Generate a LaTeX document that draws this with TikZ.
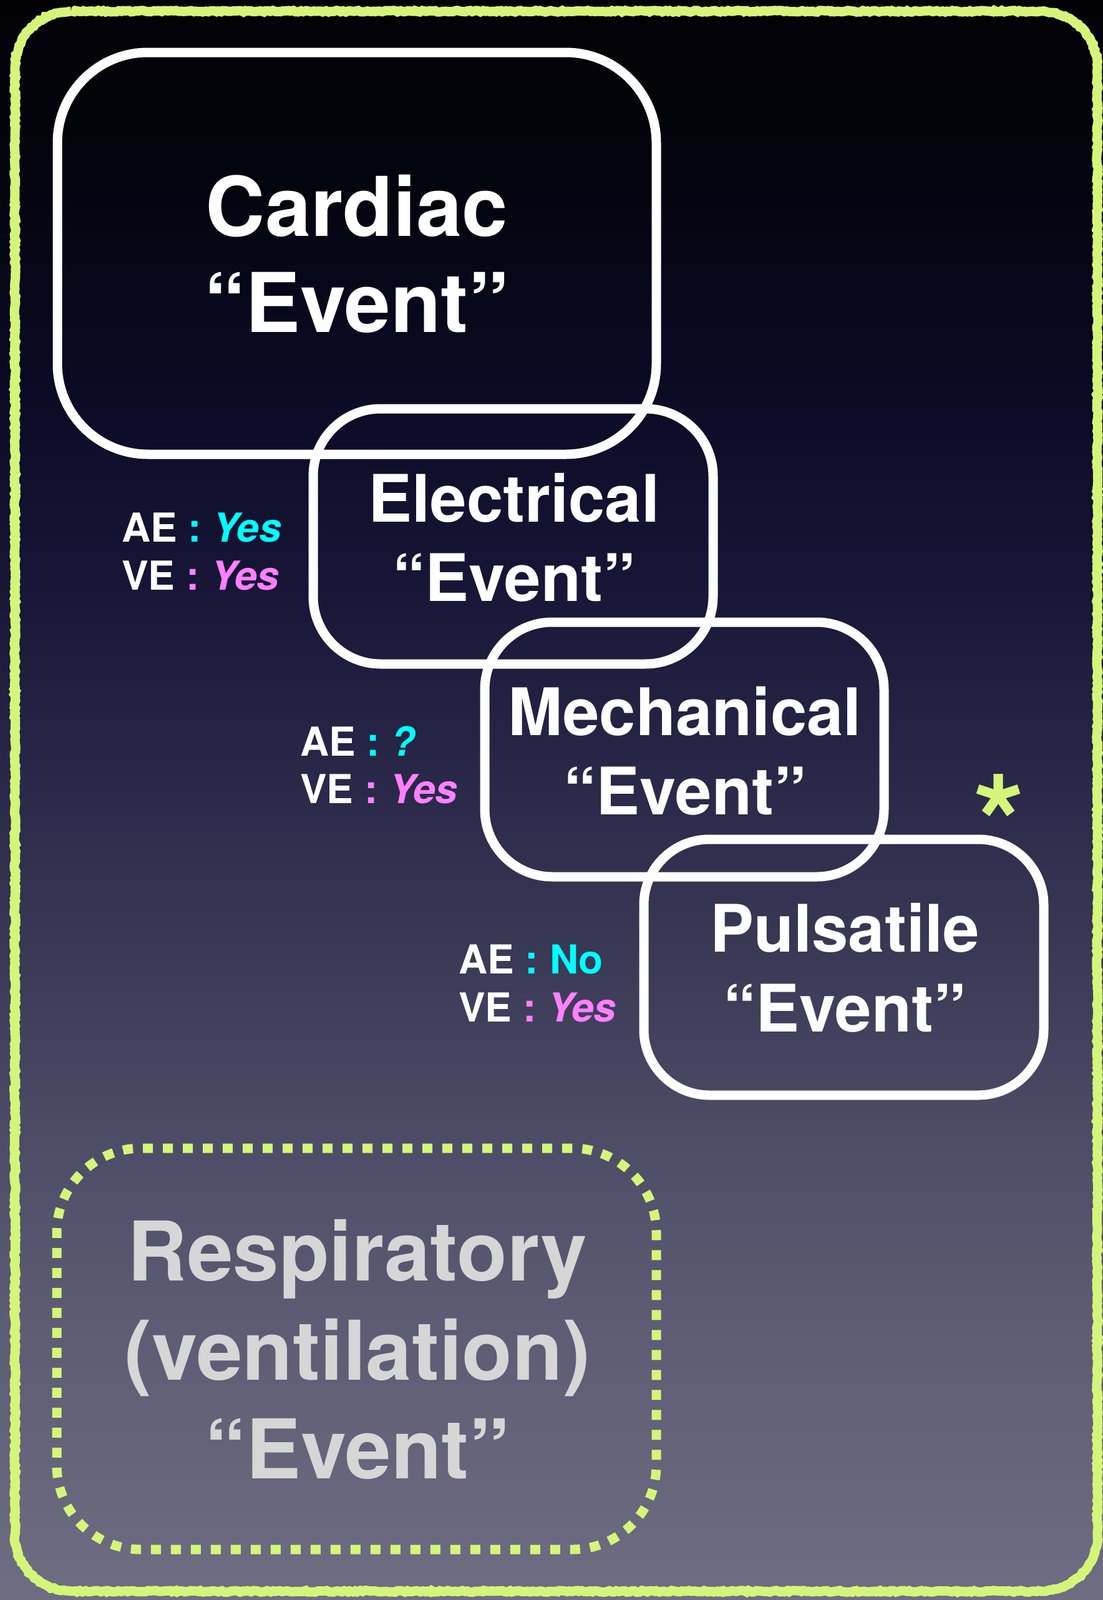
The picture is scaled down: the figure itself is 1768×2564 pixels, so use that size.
\documentclass[tikz,border=0pt]{standalone}
\usepackage{fontspec}
\setmainfont{TeX Gyre Heros}
\usetikzlibrary{decorations.pathmorphing}
\definecolor{lime}{HTML}{D4F57A}
\definecolor{aecol}{HTML}{00FFFF}
\definecolor{vecol}{HTML}{FF80FF}
\definecolor{resptext}{HTML}{D6D6D6}
\definecolor{bgA}{HTML}{020206}
\definecolor{bgB}{HTML}{04040F}
\definecolor{bgC}{HTML}{0A0A24}
\definecolor{bgD}{HTML}{151434}
\definecolor{bgE}{HTML}{262546}
\definecolor{bgF}{HTML}{383754}
\definecolor{bgG}{HTML}{4C4B66}
\definecolor{bgH}{HTML}{5C5B73}
\definecolor{bgI}{HTML}{6E6D82}
\pgfdeclareverticalshading{bgshade}{100bp}{%
  color(0bp)=(bgI); color(25bp)=(bgI); color(34.05bp)=(bgH); color(39.9bp)=(bgG);
  color(45.75bp)=(bgF); color(51.6bp)=(bgE); color(57.45bp)=(bgD); color(63.3bp)=(bgC);
  color(69.15bp)=(bgB); color(75bp)=(bgA); color(100bp)=(bgA)}
\begin{document}
\begin{tikzpicture}[x=1pt,y=-1pt,
  evbox/.style={draw=white, line width=15pt, rectangle, inner sep=0pt},
  bigtxt/.style={text=white, font=\bfseries\fontsize{132}{156}\selectfont, inner sep=0pt, anchor=base},
  midtxt/.style={text=white, font=\bfseries\fontsize{105}{128}\selectfont, inner sep=0pt, anchor=base},
  resptxt/.style={bigtxt, text=resptext},
  lbl/.style={text=white, font=\bfseries\fontsize{64}{77}\selectfont, inner sep=0pt, anchor=base west},
  dotbox/.style={draw=lime, line width=15pt, dash pattern=on 16pt off 16pt, rectangle, inner sep=0pt},
  chalk/.style={draw=lime, line width=15pt, decorate, decoration={random steps, segment length=4pt, amplitude=1.3pt}}
]
\useasboundingbox (0,0) rectangle (1768,2564);
\shade[shading=bgshade] (0,0) rectangle (1768,2564);
% chalk outer border
\draw[chalk] (114,18) -- (1669,18) arc[start angle=90, end angle=0, radius=90pt]
  -- (1759,2460) arc[start angle=0, end angle=-90, radius=90pt]
  -- (114,2550) arc[start angle=270, end angle=180, radius=90pt]
  -- (24,108) arc[start angle=180, end angle=90, radius=90pt] -- cycle;
% boxes
\node[evbox, minimum width=960pt, minimum height=644pt, rounded corners=145pt] (cardbox) at (572,406) {};
\node[evbox, minimum width=641pt, minimum height=409pt, rounded corners=108pt] (elecbox) at (822.5,859.5) {};
\node[evbox, minimum width=640pt, minimum height=408pt, rounded corners=108pt] (mechbox) at (1097,1201) {};
\node[evbox, minimum width=641pt, minimum height=410pt, rounded corners=105pt] (pulsbox) at (1352.5,1550) {};
\node[dotbox, minimum width=961pt, minimum height=643pt, rounded corners=135pt] (respbox) at (571.5,2161.5) {};
% box texts
\node[bigtxt] (cardA) at (572,378) {Cardiac};
\node[bigtxt] (cardB) at (572,532) {“Event”};
\node[midtxt] (elecA) at (824,836) {Electrical};
\node[midtxt] (elecB) at (824,963) {“Event”};
\node[midtxt] (mechA) at (1098,1178) {Mechanical};
\node[midtxt] (mechB) at (1098,1305) {“Event”};
\node[midtxt] (pulsA) at (1354,1525) {Pulsatile};
\node[midtxt] (pulsB) at (1354,1653) {“Event”};
\node[resptxt] (respA) at (573,2052) {Respiratory};
\node[resptxt] (respB) at (573,2211) {(ventilation)};
\node[resptxt] (respC) at (573,2369) {“Event”};
% AE / VE labels
\node[lbl] (ae1) at (195,868) {AE {\color{aecol}: \textit{Yes}}};
\node[lbl] (ve1) at (195,945) {VE {\color{vecol}: \textit{Yes}}};
\node[lbl] (ae2) at (481,1211) {AE {\color{aecol}: \textit{?}}};
\node[lbl] (ve2) at (481,1287) {VE {\color{vecol}: \textit{Yes}}};
\node[lbl] (ae3) at (735,1560) {AE {\color{aecol}: No}};
\node[lbl] (ve3) at (735,1637) {VE {\color{vecol}: \textit{Yes}}};
% star
\node[text=lime, font=\bfseries\fontsize{211}{211}\selectfont, inner sep=0pt, anchor=base] (star) at (1602,1394) {*};
\end{tikzpicture}
\end{document}
